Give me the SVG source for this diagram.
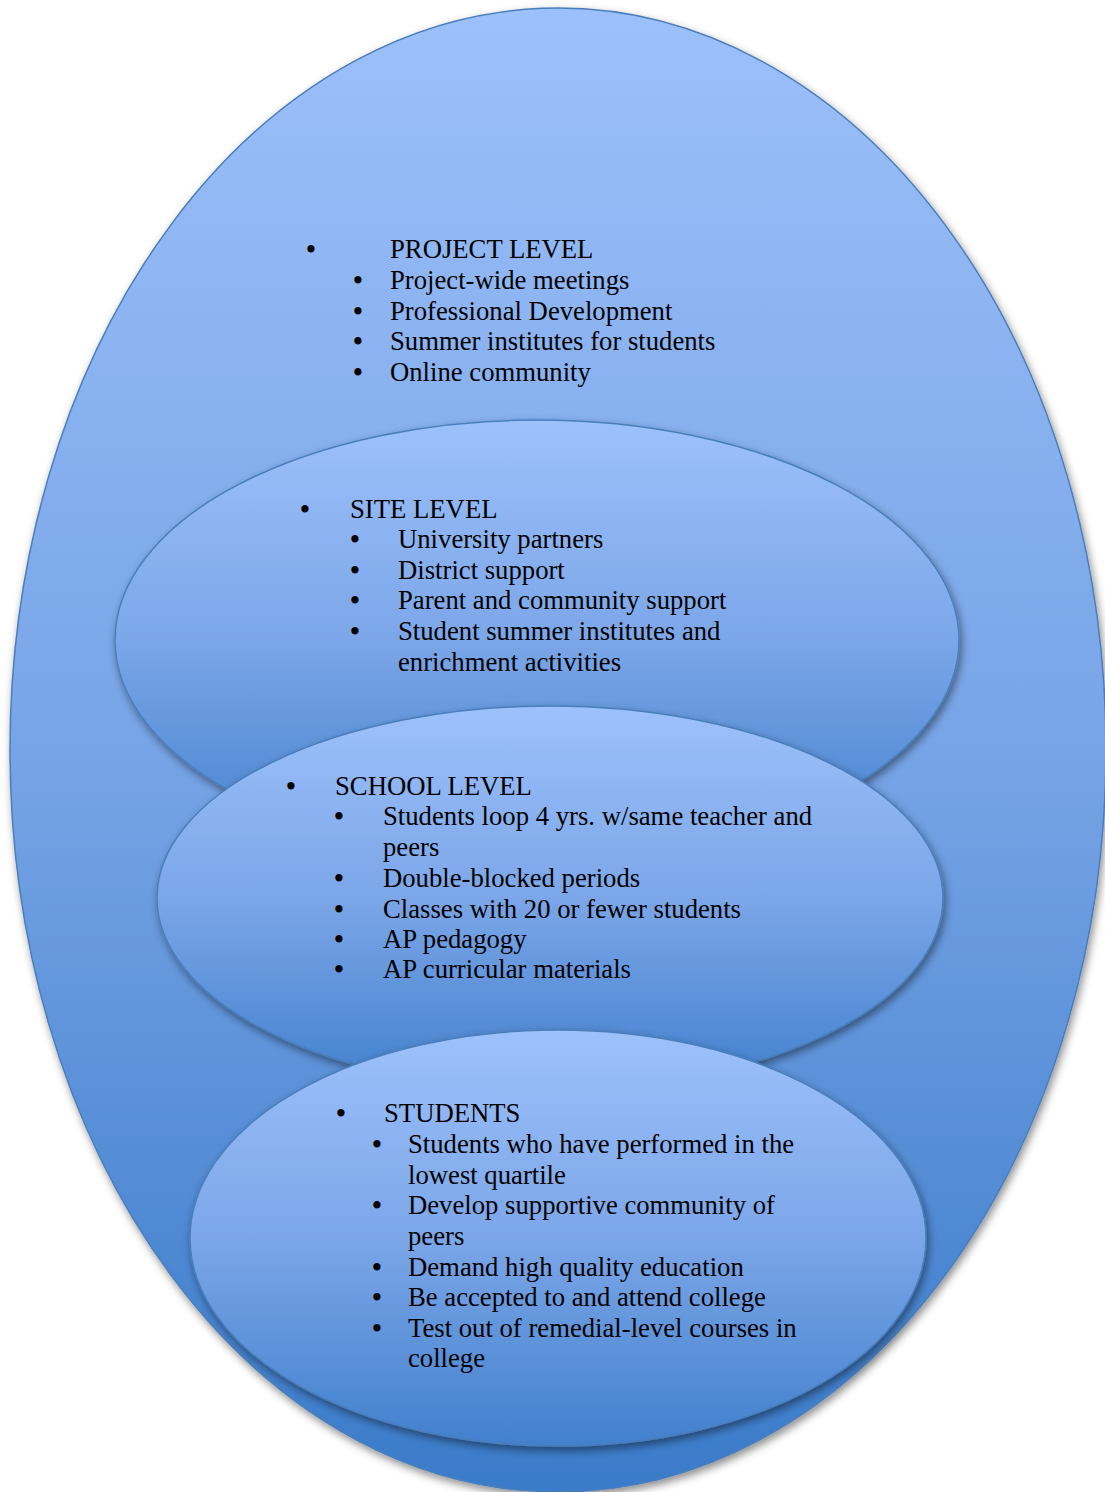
<svg xmlns="http://www.w3.org/2000/svg" width="1105" height="1492" viewBox="0 0 1105 1492">
  <defs>
    <linearGradient id="gBig" x1="0" y1="0" x2="0" y2="1">
      <stop offset="0" stop-color="#9cc0fa"/>
      <stop offset="0.5" stop-color="#77a4e6"/>
      <stop offset="1" stop-color="#3a7bc9"/>
    </linearGradient>
    <linearGradient id="gIn" x1="0" y1="0" x2="0" y2="1">
      <stop offset="0" stop-color="#9dc1fb"/>
      <stop offset="0.5" stop-color="#7ba6e8"/>
      <stop offset="1" stop-color="#4280cd"/>
    </linearGradient>
    <filter id="shadow" x="-10%" y="-10%" width="120%" height="120%">
      <feDropShadow dx="2" dy="4" stdDeviation="4" flood-color="#000000" flood-opacity="0.45"/>
    </filter>
  </defs>
  <style>
    .shape { stroke: #4a7ebb; stroke-width: 1.5; filter: url(#shadow); }
    .big { fill: url(#gBig); }
    .inner { fill: url(#gIn); }
    text { font-family: "Liberation Serif", "Times New Roman", serif; font-size: 26.7px; fill: #000000; }
    .b { text-anchor: middle; font-weight: bold; }
  </style>

  <g id="project-level">
    <ellipse class="shape big" cx="558" cy="750" rx="548" ry="742"/>
    <text class="b" x="311" y="258">•</text>
    <text x="390" y="258">PROJECT LEVEL</text>
    <text class="b" x="358" y="289">•</text>
    <text x="390" y="289">Project-wide meetings</text>
    <text class="b" x="358" y="320">•</text>
    <text x="390" y="320">Professional Development</text>
    <text class="b" x="358" y="350">•</text>
    <text x="390" y="350">Summer institutes for students</text>
    <text class="b" x="358" y="381">•</text>
    <text x="390" y="381">Online community</text>
  </g>

  <g id="site-level">
    <ellipse class="shape inner" cx="537" cy="640" rx="422" ry="220"/>
    <text class="b" x="305" y="518">•</text>
    <text x="350" y="518">SITE LEVEL</text>
    <text class="b" x="355" y="548">•</text>
    <text x="398" y="548">University partners</text>
    <text class="b" x="355" y="579">•</text>
    <text x="398" y="579">District support</text>
    <text class="b" x="355" y="609">•</text>
    <text x="398" y="609">Parent and community support</text>
    <text class="b" x="355" y="640">•</text>
    <text x="398" y="640">Student summer institutes and</text>
    <text x="398" y="671">enrichment activities</text>
  </g>

  <g id="school-level">
    <ellipse class="shape inner" cx="550" cy="898" rx="393" ry="192"/>
    <text class="b" x="291" y="795">•</text>
    <text x="335" y="795">SCHOOL LEVEL</text>
    <text class="b" x="339" y="825">•</text>
    <text x="383" y="825">Students loop 4 yrs. w/same teacher and</text>
    <text x="383" y="856">peers</text>
    <text class="b" x="339" y="887">•</text>
    <text x="383" y="887">Double-blocked periods</text>
    <text class="b" x="339" y="918">•</text>
    <text x="383" y="918">Classes with 20 or fewer students</text>
    <text class="b" x="339" y="948">•</text>
    <text x="383" y="948">AP pedagogy</text>
    <text class="b" x="339" y="978">•</text>
    <text x="383" y="978">AP curricular materials</text>
  </g>

  <g id="students">
    <ellipse class="shape inner" cx="558" cy="1238" rx="368" ry="208"/>
    <text class="b" x="341" y="1122">•</text>
    <text x="384" y="1122">STUDENTS</text>
    <text class="b" x="377" y="1153">•</text>
    <text x="408" y="1153">Students who have performed in the</text>
    <text x="408" y="1184">lowest quartile</text>
    <text class="b" x="377" y="1214">•</text>
    <text x="408" y="1214">Develop supportive community of</text>
    <text x="408" y="1245">peers</text>
    <text class="b" x="377" y="1276">•</text>
    <text x="408" y="1276">Demand high quality education</text>
    <text class="b" x="377" y="1306">•</text>
    <text x="408" y="1306">Be accepted to and attend college</text>
    <text class="b" x="377" y="1337">•</text>
    <text x="408" y="1337">Test out of remedial-level courses in</text>
    <text x="408" y="1367">college</text>
  </g>

  <g id="connectors"></g>
</svg>
